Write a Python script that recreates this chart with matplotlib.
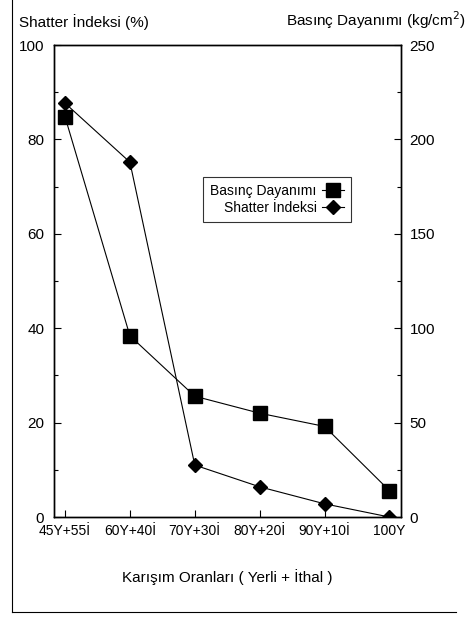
import matplotlib
matplotlib.use("Agg")
import matplotlib.pyplot as plt
from matplotlib.lines import Line2D

plt.rcParams['font.family'] = ['Liberation Sans', 'DejaVu Sans']

categories = ["45Y+55İ", "60Y+40İ", "70Y+30İ", "80Y+20İ", "90Y+10İ", "100Y"]
basinc = [212, 96, 64, 55, 48, 14]          # kg/cm2, right axis
shatter = [87.7, 75.2, 11.0, 6.4, 2.8, 0.0]  # %, left axis

fig = plt.figure(figsize=(4.68, 6.18), dpi=100)
ax = fig.add_axes([0.1154, 0.1634, 0.7416, 0.7636])
ax2 = ax.twinx()

x = list(range(len(categories)))
ax.plot(x, shatter, color='black', lw=0.8, marker='D', ms=7.5, zorder=3)
ax2.plot(x, basinc, color='black', lw=0.8, marker='s', ms=9.5, zorder=3)

ax.set_xlim(-0.17, 5.18)
ax.set_ylim(0, 100)
ax2.set_ylim(0, 250)

ax.set_xticks(x)
ax.set_xticklabels(categories, fontsize=10)
ax.set_yticks([0, 20, 40, 60, 80, 100])
ax.set_yticks([10, 30, 50, 70, 90], minor=True)
ax2.set_yticks([0, 50, 100, 150, 200, 250])
ax2.set_yticks([25, 75, 125, 175, 225], minor=True)

ax.tick_params(axis='both', which='major', direction='in', length=5, width=0.8, labelsize=11, pad=7)
ax.tick_params(axis='y', which='minor', direction='in', length=3, width=0.8)
ax.tick_params(axis='x', which='major', labelsize=10, pad=5)
ax2.tick_params(axis='y', which='major', direction='in', length=5, width=0.8, labelsize=11, pad=6)
ax2.tick_params(axis='y', which='minor', direction='in', length=3, width=0.8)

for a in (ax, ax2):
    for s in a.spines.values():
        s.set_linewidth(1.0)

ax.set_xlabel("Karışım Oranları ( Yerli + İthal )", fontsize=11, labelpad=22)

fig.text(0.04, 0.964, "Shatter İndeksi (%)", fontsize=11, ha='left', va='center')
fig.text(0.995, 0.967, "Basınç Dayanımı (kg/cm$^2$)", fontsize=11, ha='right', va='center')

handles = [Line2D([0], [0], color='black', lw=0.8, marker='s', ms=9.5),
           Line2D([0], [0], color='black', lw=0.8, marker='D', ms=7.5)]
leg = ax.legend(handles, ["Basınç Dayanımı", "Shatter İndeksi"], markerfirst=False,
                loc='upper left', bbox_to_anchor=(0.41, 0.735), frameon=True, fancybox=False,
                fontsize=10, handlelength=1.6, borderpad=0.5, labelspacing=0.2, handletextpad=0.4)
leg.get_frame().set_edgecolor('black')
leg.get_frame().set_linewidth(0.8)

# outer scan border
fig.add_artist(Line2D([0.026, 0.026], [0.01, 1.0], transform=fig.transFigure, color='black', lw=0.8))
fig.add_artist(Line2D([0.026, 0.975], [0.01, 0.01], transform=fig.transFigure, color='black', lw=0.8))

fig.savefig("out.png", dpi=100)
